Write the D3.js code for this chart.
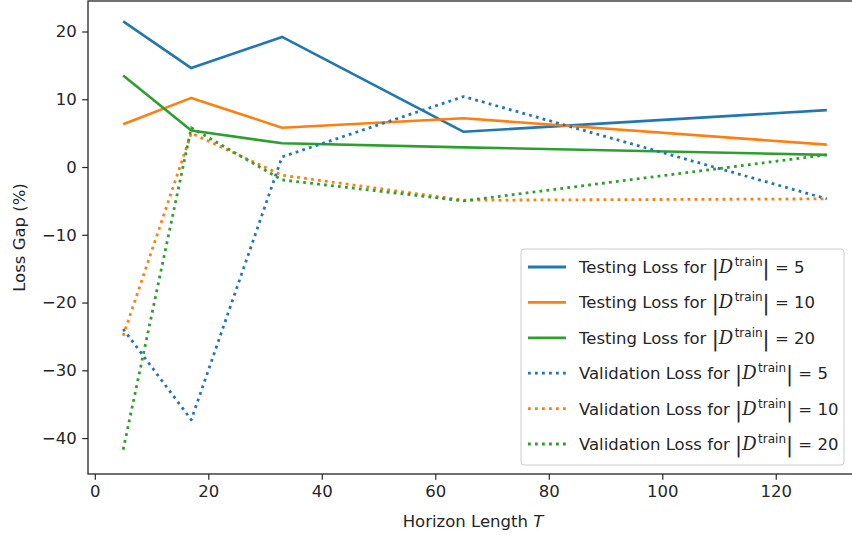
<!DOCTYPE html>
<html>
<head>
<meta charset="utf-8">
<script src="https://cdn.jsdelivr.net/npm/d3@7"></script>
<style>
  body { margin: 0; background: #fff; }
  text { font-family: "DejaVu Sans", sans-serif; fill: #262626; }
</style>
</head>
<body>
<svg></svg>
<script>
var svg_width = 852;
var svg_height = 535;

// horizon lengths
var horizons = [5, 17, 33, 65, 129];

// testing loss gap (%)
var test_5 = [21.5, 14.6, 19.2, 5.2, 8.4];
var test_10 = [6.3, 10.2, 5.8, 7.2, 3.3];
var test_20 = [13.5, 5.4, 3.5, 2.9, 1.8];

// validation loss gap (%)
var val_5 = [-23.9, -37.3, 1.5, 10.4, -4.7];
var val_10 = [-24.9, 5.0, -1.2, -4.9, -4.7];
var val_20 = [-41.7, 5.8, -1.9, -5.0, 1.8];

var colors = ['#1f77b4', '#ff7f0e', '#2ca02c'];

var x_ticks = [0, 20, 40, 60, 80, 100, 120];
var y_ticks = [-40, -30, -20, -10, 0, 10, 20];

var series = [
  {kind: 'Testing', size: 5, values: test_5, color: colors[0], dotted: false},
  {kind: 'Testing', size: 10, values: test_10, color: colors[1], dotted: false},
  {kind: 'Testing', size: 20, values: test_20, color: colors[2], dotted: false},
  {kind: 'Validation', size: 5, values: val_5, color: colors[0], dotted: true},
  {kind: 'Validation', size: 10, values: val_10, color: colors[1], dotted: true},
  {kind: 'Validation', size: 20, values: val_20, color: colors[2], dotted: true}
];

var plot_left = 88, plot_right = 862, plot_top = 1, plot_bottom = 474;

var xScale = d3.scaleLinear().domain([-1.2, 135.2]).range([plot_left, plot_right]);
var yScale = d3.scaleLinear().domain([-45.3, 24.5]).range([plot_bottom, plot_top]);

var svg = d3.select('svg')
  .attr('width', svg_width)
  .attr('height', svg_height);

// lines
var line = d3.line()
  .x(function(d, i) {return(xScale(horizons[i]));})
  .y(function(d) {return(yScale(d));});

svg.selectAll('path.series')
  .data(series)
  .enter()
  .append('path')
  .attr('class', 'series')
  .attr('d', function(d) {return(line(d.values));})
  .attr('fill', 'none')
  .attr('stroke', function(d) {return(d.color);})
  .attr('stroke-width', function(d) {return(d.dotted ? 2.8 : 2.6);})
  .attr('stroke-linejoin', 'round')
  .attr('stroke-dasharray', function(d) {return(d.dotted ? '2.8,4.2' : null);});

// axes
var xAxis = d3.axisBottom(xScale).tickValues(x_ticks).tickSize(5.8).tickPadding(5.5);
var yAxis = d3.axisLeft(yScale).tickValues(y_ticks).tickSize(5.8).tickPadding(5.5)
  .tickFormat(function(d) {return(d < 0 ? '\u2212' + Math.abs(d) : d);});

var gx = svg.append('g')
  .attr('transform', 'translate(0,' + plot_bottom + ')')
  .call(xAxis);
var gy = svg.append('g')
  .attr('transform', 'translate(' + plot_left + ',0)')
  .call(yAxis);

[gx, gy].forEach(function(g) {
  g.select('.domain').remove();
  g.selectAll('line').attr('stroke', '#262626').attr('stroke-width', 1.2);
  g.selectAll('text').style('font-size', '16.5px').style('fill', '#262626')
    .style('font-family', '"DejaVu Sans", sans-serif');
});

// spines
svg.append('rect')
  .attr('x', plot_left)
  .attr('y', plot_top)
  .attr('width', plot_right - plot_left)
  .attr('height', plot_bottom - plot_top)
  .attr('fill', 'none')
  .attr('stroke', '#262626')
  .attr('stroke-width', 1.3);

// axis labels
var xlab = svg.append('text')
  .attr('x', (plot_left + plot_right) / 2 - 2)
  .attr('y', 527)
  .attr('text-anchor', 'middle')
  .style('font-size', '16.5px');
xlab.append('tspan').text('Horizon Length ');
xlab.append('tspan').attr('font-style', 'italic').text('T');

svg.append('text')
  .attr('transform', 'translate(25,' + ((plot_top + plot_bottom) / 2) + ') rotate(-90)')
  .attr('text-anchor', 'middle')
  .style('font-size', '16.5px')
  .text('Loss Gap (%)');

// legend
var legend_x = 521, legend_y = 249, row_h = 35.4;
svg.append('rect')
  .attr('x', legend_x)
  .attr('y', legend_y)
  .attr('width', 323)
  .attr('height', 216)
  .attr('rx', 3)
  .attr('fill', 'rgba(255,255,255,0.8)')
  .attr('stroke', '#cccccc')
  .attr('stroke-width', 1);

var rows = svg.selectAll('g.legend-row')
  .data(series)
  .enter()
  .append('g')
  .attr('class', 'legend-row')
  .attr('transform', function(d, i) {return('translate(' + legend_x + ',' + (legend_y + 18 + i * row_h) + ')');});

rows.append('line')
  .attr('x1', 7).attr('x2', 45)
  .attr('y1', 0).attr('y2', 0)
  .attr('stroke', function(d) {return(d.color);})
  .attr('stroke-width', 2.8)
  .attr('stroke-dasharray', function(d) {return(d.dotted ? '2.8,4.2' : null);});

var lt = rows.append('text')
  .attr('x', 58)
  .attr('y', 6)
  .style('font-size', '16.5px');
lt.append('tspan').text(function(d) {return(d.kind + ' Loss for ');});
lt.append('tspan').style('font-size', '21px').attr('dy', 2).text('|');
lt.append('tspan')
  .attr('dy', -2)
  .style('font-family', '"DejaVu Serif", serif')
  .style('font-size', '18px')
  .attr('font-style', 'italic')
  .text('D');
lt.append('tspan')
  .attr('dy', -7)
  .attr('dx', 1.5)
  .style('font-size', '12px')
  .text('train');
lt.append('tspan').style('font-size', '21px').attr('dy', 9).text('|');
lt.append('tspan')
  .attr('dy', -2)
  .text(function(d) {return(' = ' + d.size);});
</script>
</body>
</html>
